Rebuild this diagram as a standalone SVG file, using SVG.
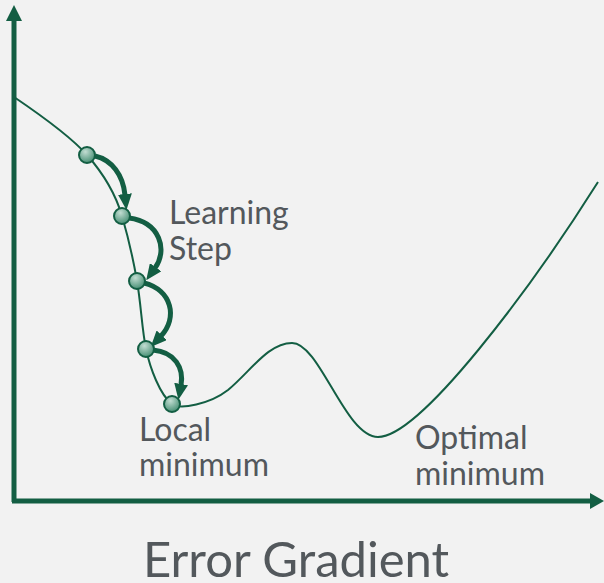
<svg xmlns="http://www.w3.org/2000/svg" width="604" height="583" viewBox="0 0 604 583">
<style>
.lbl{font-family:Lato,"Liberation Sans",sans-serif;fill:#53585c;font-size:32px}
.title{font-family:Lato,"Liberation Sans",sans-serif;fill:#53585c;font-size:49px}
.axis{stroke:#135e43;stroke-width:5;fill:none}
.curve{stroke:#135e43;stroke-width:2;fill:none}
.step{stroke:#135e43;stroke-width:5;fill:none;marker-end:url(#ah)}
.ball{fill:url(#bg);stroke:#135e43;stroke-width:2}
</style>
<defs>
<radialGradient id="bg" cx="0.4" cy="0.3" r="0.75">
<stop offset="0" stop-color="#c2ddd2"/>
<stop offset="1" stop-color="#3f8a6e"/>
</radialGradient>
<marker id="ah" markerUnits="userSpaceOnUse" viewBox="0 0 16 14" markerWidth="16" markerHeight="14" refX="1" refY="7" orient="auto">
<path d="M0,0 L16,7 L0,14 z" fill="#135e43"/>
</marker>
</defs>
<rect width="604" height="583" fill="#f2f2f2"/>
<g id="axes">
<path class="axis" d="M14,502 V18"/>
<path d="M6,21 L14,5 L22,21 z" fill="#135e43"/>
<path class="axis" d="M12,501 H590"/>
<path d="M590,493 L604,501 L590,509 z" fill="#135e43"/>
</g>
<g id="curve">
<path class="curve" d="M14,97 C45,118 72,138 87,155 C102,172 115,192 122,216 C129,240 133,258 137,281 C141,304 142,330 146,349 C150,368 160,395 172,404 C180,410 210,404 228,390 C250,372 268,343 292,343 C320,343 345,437 378,437 C420,437 530,290 598,182"/>
</g>
<g id="connectors">
<path class="step" d="M95,156 C112,160 123,175 125,195"/>
<path class="step" d="M129,218 C160,222 168,250 155,268"/>
<path class="step" d="M144,283 C172,290 178,318 161,336"/>
<path class="step" d="M153,350 C175,352 184,368 181,385"/>
</g>
<g id="balls">
<circle id="p1" class="ball" cx="87" cy="155" r="8"/>
<circle id="p2" class="ball" cx="122" cy="216" r="8"/>
<circle id="p3" class="ball" cx="137" cy="281" r="8"/>
<circle id="p4" class="ball" cx="146" cy="349" r="8"/>
<circle id="p5" class="ball" cx="172" cy="404" r="8"/>
</g>
<g id="labels">
<text class="lbl" x="169" y="224">Learning</text>
<text class="lbl" x="169" y="260">Step</text>
<text class="lbl" x="139" y="441">Local</text>
<text class="lbl" x="139" y="476">minimum</text>
<text class="lbl" x="415" y="449">Optimal</text>
<text class="lbl" x="415" y="485">minimum</text>
<text class="title" x="296" y="577" text-anchor="middle">Error Gradient</text>
</g>
</svg>
